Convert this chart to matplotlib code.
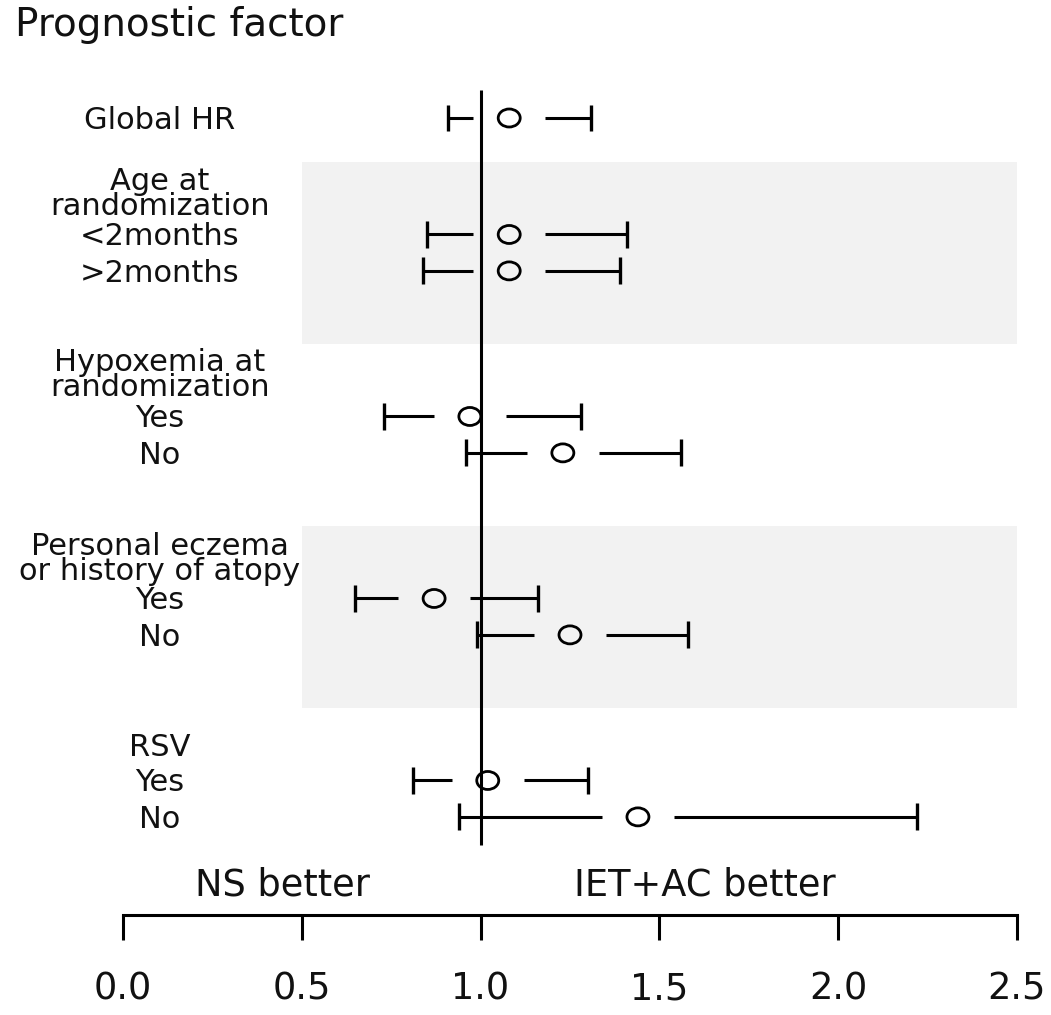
import matplotlib
matplotlib.use("Agg")
import matplotlib.pyplot as plt
from matplotlib.patches import Ellipse, Rectangle

plt.rcParams['font.family'] = ['DejaVu Sans']

# ---------------- data ----------------
row_labels = ["Global HR", "<2months", ">2months", "Yes", "No", "Yes", "No", "Yes", "No"]
row_pos = [0, 3.2, 4.2, 8.2, 9.2, 13.2, 14.2, 18.2, 19.2]
est = [1.08, 1.08, 1.08, 0.97, 1.23, 0.87, 1.25, 1.02, 1.44]
ci_low = [0.91, 0.85, 0.84, 0.73, 0.96, 0.65, 0.99, 0.81, 0.94]
ci_high = [1.31, 1.41, 1.39, 1.28, 1.56, 1.16, 1.58, 1.30, 2.22]

group_headers = ["Age at\nrandomization",
                 "Hypoxemia at\nrandomization",
                 "Personal eczema\nor history of atopy",
                 "RSV"]
header_pos = [2.66, 7.64, 12.70, 17.53]
band_spans = [(1.2, 6.2), (11.2, 16.2)]

xticks = [0.0, 0.5, 1.0, 1.5, 2.0, 2.5]
xticklabels = ["0.0", "0.5", "1.0", "1.5", "2.0", "2.5"]
ref_value = 1.0

# ---------------- figure ----------------
W, H = 1051, 1015
fig = plt.figure(figsize=(W / 100, H / 100), dpi=100)
ax = fig.add_axes([123 / W, 1 - 915 / H, (1017 - 123) / W, (915 - 80) / H])
ax.set_xlim(0, 2.5)
ax.set_ylim(21.896, -1.044)

# shaded bands
for y0, y1 in band_spans:
    ax.add_patch(Rectangle((0.5, y0), 2.0, y1 - y0, facecolor="#f2f2f2",
                           edgecolor="none", zorder=0))

# reference line
ax.vlines(ref_value, -0.77, 19.97, color="black", lw=2.2, zorder=2)

gap = 0.1
px_x = 357.6  # pixels per x unit
px_y = 36.4   # pixels per y unit
for y, e, lo, hi in zip(row_pos, est, ci_low, ci_high):
    ax.hlines(y, lo, e - gap, color="black", lw=2.2, zorder=3)
    ax.hlines(y, e + gap, hi, color="black", lw=2.2, zorder=3)
    ax.vlines([lo, hi], y - 0.37, y + 0.37, color="black", lw=2.4, zorder=3)
    ax.add_patch(Ellipse((e, y), 22 / px_x, 18 / px_y, facecolor="none",
                         edgecolor="black", lw=2.0, zorder=4))

# labels
lab_x = (160 - 123) / px_x
for lab, y in zip(row_labels, row_pos):
    ax.text(lab_x, y + 0.3, lab, ha="center", va="baseline", fontsize=22,
            clip_on=False, color="#111111")
for txt, y in zip(group_headers, header_pos):
    ax.text(lab_x, y, txt, ha="center", va="baseline", fontsize=22,
            multialignment="center", linespacing=0.84,
            clip_on=False, color="#111111")

ax.text(0.445, 21.35, "NS better", ha="center", va="baseline", fontsize=26.5,
        color="#111111")
ax.text(1.627, 21.35, "IET+AC better", ha="center", va="baseline", fontsize=26.5,
        color="#111111")

# axis styling
for s in ["top", "right", "left"]:
    ax.spines[s].set_visible(False)
ax.spines["bottom"].set_linewidth(2.2)
ax.set_yticks([])
ax.set_xticks(xticks)
ax.set_xticklabels(xticklabels, fontsize=26.5)
ax.tick_params(axis="x", direction="out", length=18, width=2.2, pad=22,
               colors="black", labelcolor="#111111")
ax.patch.set_alpha(0)

fig.text(15 / W, 1 - 36 / H, "Prognostic factor", ha="left", va="baseline",
         fontsize=28, color="#111111")

fig.savefig("out.png", dpi=100)
